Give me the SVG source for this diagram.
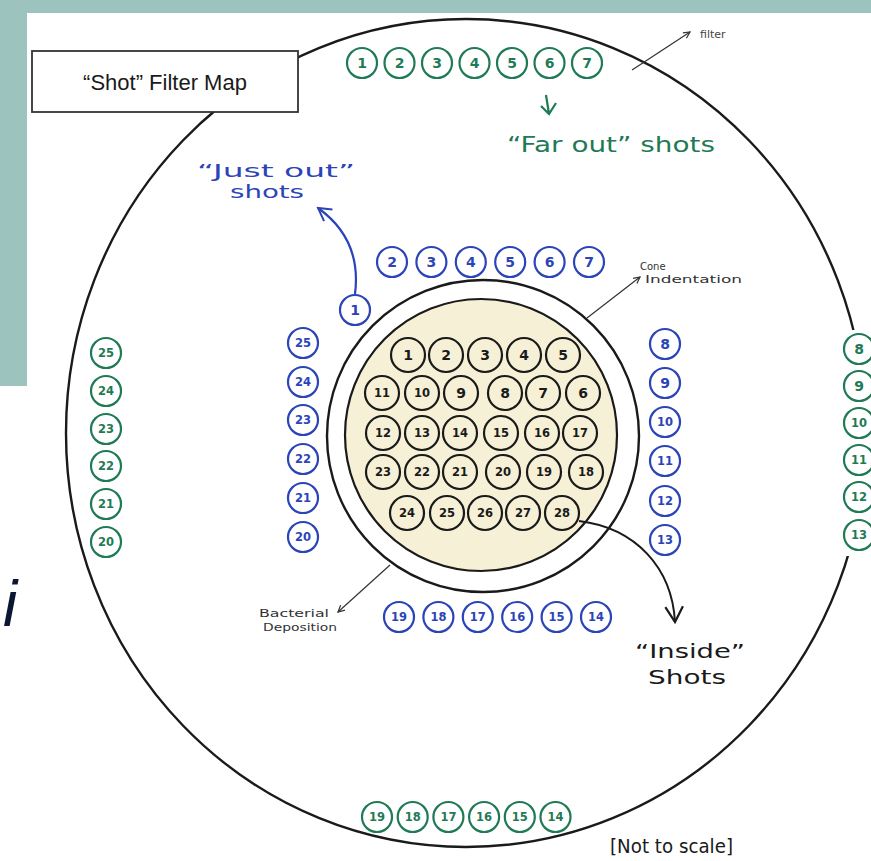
<svg xmlns="http://www.w3.org/2000/svg" width="871" height="861" viewBox="0 0 871 861">
<defs>
<style>
.bg{fill:#9dc3bf}
.gc{fill:#fff;stroke:#1f7a55;stroke-width:2.2}
.bc{fill:#fff;stroke:#2b44b8;stroke-width:2.2}
.kc{fill:none;stroke:#1a1a1a;stroke-width:2.2}
.gt{fill:#1f7a55}
.bt{fill:#2b44b8}
.kt{fill:#1a1a1a}
.num{font-family:"DejaVu Sans",sans-serif;font-weight:bold;font-size:14px;text-anchor:middle;dominant-baseline:central}
.num2{font-size:11.5px}
.hand{font-family:"DejaVu Sans",sans-serif}
.line{fill:none;stroke:#333;stroke-width:1.2}
</style>
<marker id="thin" viewBox="0 0 10 10" refX="9" refY="5" markerWidth="8" markerHeight="8" orient="auto-start-reverse" markerUnits="userSpaceOnUse">
<path d="M1,1 L9,5 L1,9" fill="none" stroke="#333" stroke-width="1.5"/>
</marker>
<marker id="vblue" viewBox="0 0 20 20" refX="18" refY="10" markerWidth="18" markerHeight="18" orient="auto" markerUnits="userSpaceOnUse">
<path d="M4,2 L18,10 L4,18" fill="none" stroke="#2b44b8" stroke-width="2.2"/>
</marker>
<marker id="vblack" viewBox="0 0 20 20" refX="18" refY="10" markerWidth="22" markerHeight="22" orient="auto" markerUnits="userSpaceOnUse">
<path d="M4,2 L18,10 L4,18" fill="none" stroke="#1a1a1a" stroke-width="2"/>
</marker>
</defs>

<g id="background">
<rect x="0" y="0" width="871" height="861" fill="#fff"/>
<rect class="bg" x="0" y="0" width="871" height="13"/>
<rect class="bg" x="0" y="0" width="27" height="386"/>
<text x="3" y="626" font-family="Liberation Sans, sans-serif" font-style="italic" font-size="64" fill="#0b1633">i</text>
</g>

<g id="filter">
<ellipse cx="466" cy="433" rx="400" ry="414" fill="none" stroke="#1a1a1a" stroke-width="2.4"/>
<rect x="842" y="330" width="29" height="226" fill="#fff"/>
</g>

<g id="title">
<rect x="32" y="51" width="266" height="61" fill="#fff" stroke="#333" stroke-width="1.8"/>
<text x="165" y="90" font-family="Liberation Sans, sans-serif" font-size="22" fill="#1a1a1a" text-anchor="middle">“Shot” Filter Map</text>
</g>

<g id="cone-indentation">
<circle cx="483" cy="436" r="156" fill="#fff" stroke="#1a1a1a" stroke-width="2.4"/>
</g>
<g id="bacterial-deposition">
<circle cx="481" cy="435" r="136" fill="#f6f0d6" stroke="#1a1a1a" stroke-width="2.2"/>
</g>

<g id="connectors">
<path class="line" d="M632,70 L690,32" marker-end="url(#thin)"/>
<path class="line" d="M587,318 L640,277" marker-end="url(#thin)"/>
<path class="line" d="M390,565 L338,612" marker-end="url(#thin)"/>
<path d="M355,294 C360,255 346,228 318,208" fill="none" stroke="#2b44b8" stroke-width="2.2" marker-end="url(#vblue)"/>
<path d="M579,521 C636,528 672,568 675,622" fill="none" stroke="#1a1a1a" stroke-width="2" marker-end="url(#vblack)"/>
<path d="M546,95 L549,114 M541,106 L549,114 L556,103" fill="none" stroke="#1f7a55" stroke-width="2.2"/>
</g>

<g id="labels">
<text class="hand" x="700" y="38" font-size="11" fill="#444">filter</text>
<text class="hand gt" x="507" y="152" font-size="21" textLength="208" lengthAdjust="spacingAndGlyphs">“Far out” shots</text>
<text class="hand bt" x="197" y="177" font-size="18" textLength="158" lengthAdjust="spacingAndGlyphs">“Just out”</text>
<text class="hand bt" x="230" y="198" font-size="18" textLength="74" lengthAdjust="spacingAndGlyphs">shots</text>
<text class="hand" x="640" y="270" font-size="10" fill="#333">Cone</text>
<text class="hand" x="645" y="283" font-size="10" fill="#333" textLength="97" lengthAdjust="spacingAndGlyphs">Indentation</text>
<text class="hand" x="259" y="617" font-size="10" fill="#333" textLength="70" lengthAdjust="spacingAndGlyphs">Bacterial</text>
<text class="hand" x="263" y="631" font-size="10" fill="#333" textLength="74" lengthAdjust="spacingAndGlyphs">Deposition</text>
<text class="hand kt" x="635" y="658" font-size="19" textLength="110" lengthAdjust="spacingAndGlyphs">“Inside”</text>
<text class="hand kt" x="648" y="684" font-size="19" textLength="78" lengthAdjust="spacingAndGlyphs">Shots</text>
<text class="hand kt" x="610" y="853" font-size="19" textLength="123" lengthAdjust="spacingAndGlyphs">[Not to scale]</text>
</g>

<g id="far-out-top">
<g id="far-1"><circle class="gc" cx="362" cy="63" r="15"/><text class="num gt" x="362" y="63">1</text></g>
<g id="far-2"><circle class="gc" cx="399.5" cy="63" r="15"/><text class="num gt" x="399.5" y="63">2</text></g>
<g id="far-3"><circle class="gc" cx="437" cy="63" r="15"/><text class="num gt" x="437" y="63">3</text></g>
<g id="far-4"><circle class="gc" cx="474.5" cy="63" r="15"/><text class="num gt" x="474.5" y="63">4</text></g>
<g id="far-5"><circle class="gc" cx="512" cy="63" r="15"/><text class="num gt" x="512" y="63">5</text></g>
<g id="far-6"><circle class="gc" cx="549.5" cy="63" r="15"/><text class="num gt" x="549.5" y="63">6</text></g>
<g id="far-7"><circle class="gc" cx="587" cy="63" r="15"/><text class="num gt" x="587" y="63">7</text></g>
</g>

<g id="far-out-right">
<g id="far-8"><circle class="gc" cx="859" cy="349" r="15"/><text class="num gt" x="859" y="349">8</text></g>
<g id="far-9"><circle class="gc" cx="859" cy="386" r="15"/><text class="num gt" x="859" y="386">9</text></g>
<g id="far-10"><circle class="gc" cx="859" cy="423" r="15"/><text class="num num2 gt" x="859" y="423">10</text></g>
<g id="far-11"><circle class="gc" cx="859" cy="460" r="15"/><text class="num num2 gt" x="859" y="460">11</text></g>
<g id="far-12"><circle class="gc" cx="859" cy="497" r="15"/><text class="num num2 gt" x="859" y="497">12</text></g>
<g id="far-13"><circle class="gc" cx="859" cy="535" r="15"/><text class="num num2 gt" x="859" y="535">13</text></g>
</g>

<g id="far-out-bottom">
<g id="far-19"><circle class="gc" cx="377" cy="817" r="15"/><text class="num num2 gt" x="377" y="817">19</text></g>
<g id="far-18"><circle class="gc" cx="412.7" cy="817" r="15"/><text class="num num2 gt" x="412.7" y="817">18</text></g>
<g id="far-17"><circle class="gc" cx="448.4" cy="817" r="15"/><text class="num num2 gt" x="448.4" y="817">17</text></g>
<g id="far-16"><circle class="gc" cx="484.1" cy="817" r="15"/><text class="num num2 gt" x="484.1" y="817">16</text></g>
<g id="far-15"><circle class="gc" cx="519.8" cy="817" r="15"/><text class="num num2 gt" x="519.8" y="817">15</text></g>
<g id="far-14"><circle class="gc" cx="555.5" cy="817" r="15"/><text class="num num2 gt" x="555.5" y="817">14</text></g>
</g>

<g id="far-out-left">
<g id="far-25"><circle class="gc" cx="106" cy="353" r="15"/><text class="num num2 gt" x="106" y="353">25</text></g>
<g id="far-24"><circle class="gc" cx="106" cy="391" r="15"/><text class="num num2 gt" x="106" y="391">24</text></g>
<g id="far-23"><circle class="gc" cx="106" cy="429" r="15"/><text class="num num2 gt" x="106" y="429">23</text></g>
<g id="far-22"><circle class="gc" cx="106" cy="466" r="15"/><text class="num num2 gt" x="106" y="466">22</text></g>
<g id="far-21"><circle class="gc" cx="106" cy="504" r="15"/><text class="num num2 gt" x="106" y="504">21</text></g>
<g id="far-20"><circle class="gc" cx="106" cy="542" r="15"/><text class="num num2 gt" x="106" y="542">20</text></g>
</g>

<g id="just-out-top">
<g id="just-1"><circle class="bc" cx="355" cy="310" r="15"/><text class="num bt" x="355" y="310">1</text></g>
<g id="just-2"><circle class="bc" cx="392" cy="262" r="15"/><text class="num bt" x="392" y="262">2</text></g>
<g id="just-3"><circle class="bc" cx="431.4" cy="262" r="15"/><text class="num bt" x="431.4" y="262">3</text></g>
<g id="just-4"><circle class="bc" cx="470.8" cy="262" r="15"/><text class="num bt" x="470.8" y="262">4</text></g>
<g id="just-5"><circle class="bc" cx="510.2" cy="262" r="15"/><text class="num bt" x="510.2" y="262">5</text></g>
<g id="just-6"><circle class="bc" cx="549.6" cy="262" r="15"/><text class="num bt" x="549.6" y="262">6</text></g>
<g id="just-7"><circle class="bc" cx="589" cy="262" r="15"/><text class="num bt" x="589" y="262">7</text></g>
</g>

<g id="just-out-right">
<g id="just-8"><circle class="bc" cx="665" cy="344" r="15"/><text class="num bt" x="665" y="344">8</text></g>
<g id="just-9"><circle class="bc" cx="665" cy="383" r="15"/><text class="num bt" x="665" y="383">9</text></g>
<g id="just-10"><circle class="bc" cx="665" cy="422" r="15"/><text class="num num2 bt" x="665" y="422">10</text></g>
<g id="just-11"><circle class="bc" cx="665" cy="461" r="15"/><text class="num num2 bt" x="665" y="461">11</text></g>
<g id="just-12"><circle class="bc" cx="665" cy="501" r="15"/><text class="num num2 bt" x="665" y="501">12</text></g>
<g id="just-13"><circle class="bc" cx="665" cy="540" r="15"/><text class="num num2 bt" x="665" y="540">13</text></g>
</g>

<g id="just-out-bottom">
<g id="just-19"><circle class="bc" cx="399" cy="617" r="15"/><text class="num num2 bt" x="399" y="617">19</text></g>
<g id="just-18"><circle class="bc" cx="438.4" cy="617" r="15"/><text class="num num2 bt" x="438.4" y="617">18</text></g>
<g id="just-17"><circle class="bc" cx="477.8" cy="617" r="15"/><text class="num num2 bt" x="477.8" y="617">17</text></g>
<g id="just-16"><circle class="bc" cx="517.2" cy="617" r="15"/><text class="num num2 bt" x="517.2" y="617">16</text></g>
<g id="just-15"><circle class="bc" cx="556.6" cy="617" r="15"/><text class="num num2 bt" x="556.6" y="617">15</text></g>
<g id="just-14"><circle class="bc" cx="596" cy="617" r="15"/><text class="num num2 bt" x="596" y="617">14</text></g>
</g>

<g id="just-out-left">
<g id="just-25"><circle class="bc" cx="303" cy="343" r="15"/><text class="num num2 bt" x="303" y="343">25</text></g>
<g id="just-24"><circle class="bc" cx="303" cy="382" r="15"/><text class="num num2 bt" x="303" y="382">24</text></g>
<g id="just-23"><circle class="bc" cx="303" cy="420" r="15"/><text class="num num2 bt" x="303" y="420">23</text></g>
<g id="just-22"><circle class="bc" cx="303" cy="459" r="15"/><text class="num num2 bt" x="303" y="459">22</text></g>
<g id="just-21"><circle class="bc" cx="303" cy="498" r="15"/><text class="num num2 bt" x="303" y="498">21</text></g>
<g id="just-20"><circle class="bc" cx="303" cy="537" r="15"/><text class="num num2 bt" x="303" y="537">20</text></g>
</g>

<g id="inside">
<g id="in-1"><circle class="kc" cx="408" cy="355" r="17"/><text class="num kt" x="408" y="355">1</text></g>
<g id="in-2"><circle class="kc" cx="446" cy="355" r="17"/><text class="num kt" x="446" y="355">2</text></g>
<g id="in-3"><circle class="kc" cx="485" cy="355" r="17"/><text class="num kt" x="485" y="355">3</text></g>
<g id="in-4"><circle class="kc" cx="524" cy="355" r="17"/><text class="num kt" x="524" y="355">4</text></g>
<g id="in-5"><circle class="kc" cx="563" cy="355" r="17"/><text class="num kt" x="563" y="355">5</text></g>
<g id="in-11"><circle class="kc" cx="382" cy="393" r="17"/><text class="num num2 kt" x="382" y="393">11</text></g>
<g id="in-10"><circle class="kc" cx="422" cy="393" r="17"/><text class="num num2 kt" x="422" y="393">10</text></g>
<g id="in-9"><circle class="kc" cx="461" cy="393" r="17"/><text class="num kt" x="461" y="393">9</text></g>
<g id="in-8"><circle class="kc" cx="505" cy="393" r="17"/><text class="num kt" x="505" y="393">8</text></g>
<g id="in-7"><circle class="kc" cx="543" cy="393" r="17"/><text class="num kt" x="543" y="393">7</text></g>
<g id="in-6"><circle class="kc" cx="583" cy="393" r="17"/><text class="num kt" x="583" y="393">6</text></g>
<g id="in-12"><circle class="kc" cx="383" cy="433" r="17"/><text class="num num2 kt" x="383" y="433">12</text></g>
<g id="in-13"><circle class="kc" cx="422" cy="433" r="17"/><text class="num num2 kt" x="422" y="433">13</text></g>
<g id="in-14"><circle class="kc" cx="460" cy="433" r="17"/><text class="num num2 kt" x="460" y="433">14</text></g>
<g id="in-15"><circle class="kc" cx="501" cy="433" r="17"/><text class="num num2 kt" x="501" y="433">15</text></g>
<g id="in-16"><circle class="kc" cx="542" cy="433" r="17"/><text class="num num2 kt" x="542" y="433">16</text></g>
<g id="in-17"><circle class="kc" cx="580" cy="433" r="17"/><text class="num num2 kt" x="580" y="433">17</text></g>
<g id="in-23"><circle class="kc" cx="383" cy="472" r="17"/><text class="num num2 kt" x="383" y="472">23</text></g>
<g id="in-22"><circle class="kc" cx="422" cy="472" r="17"/><text class="num num2 kt" x="422" y="472">22</text></g>
<g id="in-21"><circle class="kc" cx="460" cy="472" r="17"/><text class="num num2 kt" x="460" y="472">21</text></g>
<g id="in-20"><circle class="kc" cx="503" cy="472" r="17"/><text class="num num2 kt" x="503" y="472">20</text></g>
<g id="in-19"><circle class="kc" cx="544" cy="472" r="17"/><text class="num num2 kt" x="544" y="472">19</text></g>
<g id="in-18"><circle class="kc" cx="586" cy="472" r="17"/><text class="num num2 kt" x="586" y="472">18</text></g>
<g id="in-24"><circle class="kc" cx="407" cy="513" r="17"/><text class="num num2 kt" x="407" y="513">24</text></g>
<g id="in-25"><circle class="kc" cx="447" cy="513" r="17"/><text class="num num2 kt" x="447" y="513">25</text></g>
<g id="in-26"><circle class="kc" cx="485" cy="513" r="17"/><text class="num num2 kt" x="485" y="513">26</text></g>
<g id="in-27"><circle class="kc" cx="523" cy="513" r="17"/><text class="num num2 kt" x="523" y="513">27</text></g>
<g id="in-28"><circle class="kc" cx="562" cy="513" r="17"/><text class="num num2 kt" x="562" y="513">28</text></g>
</g>
</svg>
